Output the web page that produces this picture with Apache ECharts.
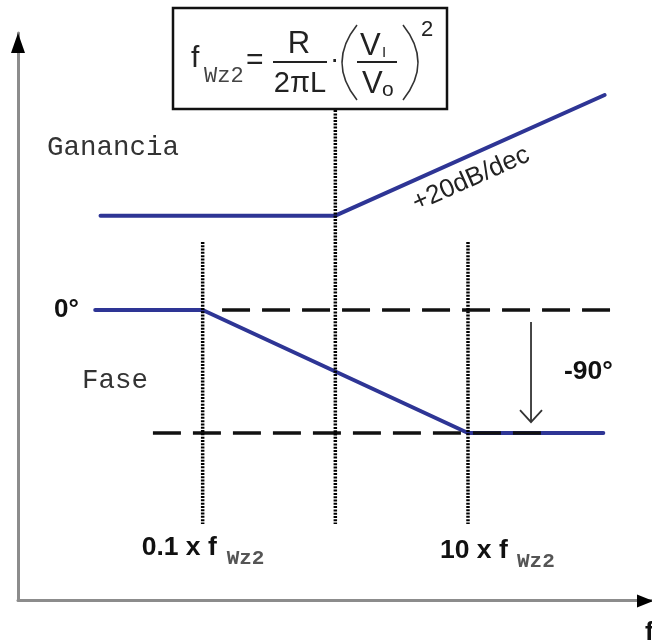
<!DOCTYPE html>
<html>
<head>
<meta charset="utf-8">
<script src="https://cdn.jsdelivr.net/npm/echarts@6/dist/echarts.min.js"></script>
<style>
html,body{margin:0;padding:0;background:#fff;}
#chart{width:652px;height:642px;}
</style>
</head>
<body>
<div id="chart"></div>
<script>
// log10(f / fWz2): -1 = 0.1 x fWz2, 0 = fWz2, 1 = 10 x fWz2
const gainX = [-1.77, 0, 2.03];
const gainDb = [0, 0, 40.7];
const phaseX = [-1.81, -1, 1, 2.02];
const phaseDeg = [0, 0, -90, -90];
const markerX = [-1, 0, 1];
const markerTop = [49.8, 146.3, 49.8];
const markerBottom = [-156.6, -156.6, -156.6];
const refLevels = [0, -90];
const refStart = [-0.854, -1.375];
const refEnd = [2.123, 1.603];
const arrowX = 1.475;
const arrowFrom = -8.8;
const arrowTo = -82;
const tickLabels = ['0.1 x f', '10 x f'];
const subLabel = 'Wz2';

const BLUE = '#2e3595';
const chart = echarts.init(document.getElementById('chart'), null, {renderer: 'canvas'});

const series = [];
series.push({
  type: 'line', xAxisIndex: 0, yAxisIndex: 0, symbol: 'none', z: 2,
  data: gainX.map((x, i) => [x, gainDb[i]]),
  lineStyle: {color: BLUE, width: 4, cap: 'round', join: 'round'}
});
series.push({
  type: 'line', xAxisIndex: 0, yAxisIndex: 1, symbol: 'none', z: 2,
  data: phaseX.map((x, i) => [x, phaseDeg[i]]),
  lineStyle: {color: BLUE, width: 4, cap: 'round', join: 'round'}
});
refLevels.forEach((lv, i) => {
  series.push({
    type: 'line', xAxisIndex: 0, yAxisIndex: 1, symbol: 'none', z: 3,
    data: [[refStart[i], lv], [refEnd[i], lv]],
    lineStyle: {color: '#111', width: 3.5, type: [28, 12]}
  });
});
markerX.forEach((x, i) => {
  series.push({
    type: 'line', xAxisIndex: 0, yAxisIndex: 1, symbol: 'none', z: 4,
    data: [[x, markerTop[i]], [x, markerBottom[i]]],
    lineStyle: {color: '#000', width: 3.5, type: [2, 1.3]}
  });
});

const axisGray = {color: '#8c8c8c', width: 3};
chart.setOption({
  animation: false,
  backgroundColor: '#fff',
  grid: {left: 18, right: 0, top: 33, bottom: 42},
  xAxis: {
    type: 'value', min: -2.392, max: 2.387,
    axisLine: {show: true, onZero: false, lineStyle: axisGray},
    axisTick: {show: false}, axisLabel: {show: false}, splitLine: {show: false}
  },
  yAxis: [
    {type: 'value', min: -129.6, max: 61.6,
     axisLine: {show: true, onZero: false, lineStyle: axisGray},
     axisTick: {show: false}, axisLabel: {show: false}, splitLine: {show: false}},
    {type: 'value', min: -212.2, max: 202.7, show: false, splitLine: {show: false}}
  ],
  series: series
});

function txt(text, x, y, size, family, weight, fill, align) {
  align = align || 'left';
  return {
    type: 'text', x: x, y: y, z: 20,
    style: {text: text, x: 0, y: 0, fontSize: size, fontFamily: family, fontWeight: weight,
            fill: fill, align: align, verticalAlign: 'middle',
            textAlign: align, textVerticalAlign: 'middle'}
  };
}
const SANS = 'Liberation Sans';
const MONO = 'Liberation Mono';

const p0 = chart.convertToPixel({xAxisIndex: 0, yAxisIndex: 1}, [arrowX, arrowFrom]);
const p1 = chart.convertToPixel({xAxisIndex: 0, yAxisIndex: 1}, [arrowX, arrowTo]);
const lblA = chart.convertToPixel({xAxisIndex: 0, yAxisIndex: 1}, [markerX[0], 0]);
const lblB = chart.convertToPixel({xAxisIndex: 0, yAxisIndex: 1}, [markerX[2], 0]);

const graphics = [
  // axis arrowheads
  {type: 'polygon', z: 10, shape: {points: [[18, 33], [11, 53], [25, 53]]}, style: {fill: '#000'}},
  {type: 'polygon', z: 10, shape: {points: [[653, 601], [637, 594.5], [637, 607.5]]}, style: {fill: '#000'}},
  // -90 deg arrow
  {type: 'line', z: 10, shape: {x1: p0[0], y1: p0[1], x2: p1[0], y2: p1[1]}, style: {stroke: '#333', lineWidth: 1.8}},
  {type: 'polyline', z: 10, shape: {points: [[p1[0] - 11, p1[1] - 12], [p1[0], p1[1]], [p1[0] + 11, p1[1] - 12]]}, style: {stroke: '#333', lineWidth: 1.8, fill: null}},
  // formula box
  {type: 'rect', z: 15, shape: {x: 173, y: 8, width: 274, height: 101}, style: {fill: '#fff', stroke: '#111', lineWidth: 2.5}},
  txt('f', 191, 59, 30, SANS, 'normal', '#222'),
  txt('Wz2', 204, 76, 22, MONO, 'normal', '#444'),
  txt('=', 246, 61, 30, SANS, 'normal', '#222'),
  txt('R', 299, 44, 31, SANS, 'normal', '#222', 'center'),
  {type: 'line', z: 20, shape: {x1: 273, y1: 62, x2: 327, y2: 62}, style: {stroke: '#222', lineWidth: 1.8}},
  txt('2πL', 300, 84, 29, SANS, 'normal', '#222', 'center'),
  txt('·', 330, 60, 28, SANS, 'normal', '#222'),
  {type: 'bezierCurve', z: 20, shape: {x1: 357, y1: 25, cpx1: 337, cpy1: 50, cpx2: 337, cpy2: 75, x2: 357, y2: 100}, style: {stroke: '#333', lineWidth: 1.6, fill: null}},
  {type: 'bezierCurve', z: 20, shape: {x1: 403, y1: 25, cpx1: 423, cpy1: 50, cpx2: 423, cpy2: 75, x2: 403, y2: 100}, style: {stroke: '#333', lineWidth: 1.6, fill: null}},
  txt('V', 360, 46, 31, SANS, 'normal', '#222'),
  txt('I', 382, 53, 15, SANS, 'normal', '#222'),
  {type: 'line', z: 20, shape: {x1: 357, y1: 62, x2: 397, y2: 62}, style: {stroke: '#222', lineWidth: 1.8}},
  txt('V', 362, 84, 31, SANS, 'normal', '#222'),
  txt('o', 382, 90, 21, SANS, 'normal', '#222'),
  txt('2', 421, 30, 22, SANS, 'normal', '#222'),
  // labels
  txt('Ganancia', 47, 148, 27.5, MONO, 'normal', '#333'),
  txt('Fase', 82, 381, 27.5, MONO, 'normal', '#333'),
  txt('0°', 54, lblA[1], 26, SANS, 'bold', '#111'),
  txt('-90°', 564, 372, 26.5, SANS, 'bold', '#111'),
  {type: 'text', x: 471, y: 179, z: 20, rotation: 24 * Math.PI / 180,
   style: {text: '+20dB/dec', x: 0, y: 0, fontSize: 26, fontFamily: SANS, fill: '#222',
           align: 'center', verticalAlign: 'middle', textAlign: 'center', textVerticalAlign: 'middle'}},
  txt(tickLabels[0], lblA[0] - 61, 548, 26.5, SANS, 'bold', '#111'),
  txt(subLabel, lblA[0] + 24, 559, 21, MONO, 'bold', '#555'),
  txt(tickLabels[1], lblB[0] - 28, 551, 26.5, SANS, 'bold', '#111'),
  txt(subLabel, lblB[0] + 49, 562, 21, MONO, 'bold', '#555'),
  txt('f', 645, 633, 26, SANS, 'bold', '#111')
];
chart.setOption({graphic: graphics});
</script>
</body>
</html>
